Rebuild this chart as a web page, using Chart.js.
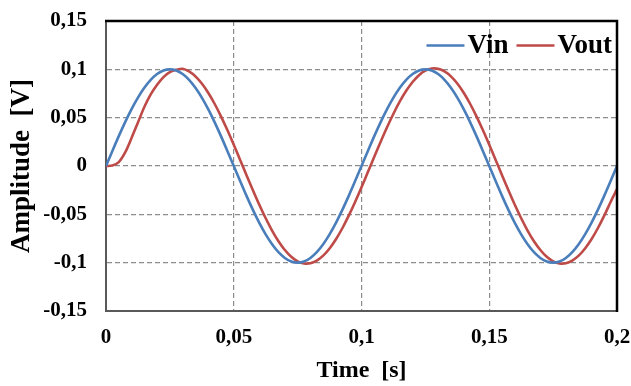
<!DOCTYPE html>
<html>
<head>
<meta charset="utf-8">
<script src="https://cdn.jsdelivr.net/npm/chart.js@4.4.1/dist/chart.umd.min.js"></script>
<style>
  html, body { margin: 0; padding: 0; background: #ffffff; }
  #c { display: block; }
</style>
</head>
<body>
<canvas id="c" width="631" height="386"></canvas>
<script>
// ---- Data ----
const timeS = [
  0, 0.0025, 0.005, 0.0075, 0.01, 0.0125, 0.015, 0.0175, 0.02, 0.0225,
  0.025, 0.0275, 0.03, 0.0325, 0.035, 0.0375, 0.04, 0.0425, 0.045, 0.0475,
  0.05, 0.0525, 0.055, 0.0575, 0.06, 0.0625, 0.065, 0.0675, 0.07, 0.0725,
  0.075, 0.0775, 0.08, 0.0825, 0.085, 0.0875, 0.09, 0.0925, 0.095, 0.0975,
  0.1, 0.1025, 0.105, 0.1075, 0.11, 0.1125, 0.115, 0.1175, 0.12, 0.1225,
  0.125, 0.1275, 0.13, 0.1325, 0.135, 0.1375, 0.14, 0.1425, 0.145, 0.1475,
  0.15, 0.1525, 0.155, 0.1575, 0.16, 0.1625, 0.165, 0.1675, 0.17, 0.1725,
  0.175, 0.1775, 0.18, 0.1825, 0.185, 0.1875, 0.19, 0.1925, 0.195, 0.1975,
  0.2
];
const vin = [
  0, 0.0156, 0.0309, 0.0454, 0.0588, 0.0707, 0.0809, 0.0891, 0.0951, 0.0988,
  0.1, 0.0988, 0.0951, 0.0891, 0.0809, 0.0707, 0.0588, 0.0454, 0.0309, 0.0156,
  0, -0.0156, -0.0309, -0.0454, -0.0588, -0.0707, -0.0809, -0.0891, -0.0951, -0.0988,
  -0.1, -0.0988, -0.0951, -0.0891, -0.0809, -0.0707, -0.0588, -0.0454, -0.0309, -0.0156,
  0, 0.0156, 0.0309, 0.0454, 0.0588, 0.0707, 0.0809, 0.0891, 0.0951, 0.0988,
  0.1, 0.0988, 0.0951, 0.0891, 0.0809, 0.0707, 0.0588, 0.0454, 0.0309, 0.0156,
  0, -0.0156, -0.0309, -0.0454, -0.0588, -0.0707, -0.0809, -0.0891, -0.0951, -0.0988,
  -0.1, -0.0988, -0.0951, -0.0891, -0.0809, -0.0707, -0.0588, -0.0454, -0.0309, -0.0156,
  0
];
const vout = [
  0, 0.0005, 0.004, 0.014, 0.029, 0.045, 0.061, 0.074, 0.084, 0.092,
  0.097, 0.0995, 0.1006, 0.0978, 0.0927, 0.0853, 0.0758, 0.0644, 0.0514, 0.0372,
  0.0220, 0.0063, -0.0095, -0.0251, -0.0401, -0.0541, -0.0668, -0.0778, -0.0869, -0.0939,
  -0.0986, -0.1008, -0.1006, -0.0978, -0.0927, -0.0853, -0.0758, -0.0644, -0.0514, -0.0372,
  -0.0220, -0.0063, 0.0095, 0.0251, 0.0401, 0.0541, 0.0668, 0.0778, 0.0869, 0.0939,
  0.0986, 0.1008, 0.1006, 0.0978, 0.0927, 0.0853, 0.0758, 0.0644, 0.0514, 0.0372,
  0.0220, 0.0063, -0.0095, -0.0251, -0.0401, -0.0541, -0.0668, -0.0778, -0.0869, -0.0939,
  -0.0986, -0.1008, -0.1006, -0.0978, -0.0927, -0.0853, -0.0758, -0.0644, -0.0514, -0.0372,
  -0.0240
];
const seriesNames = ['Vin', 'Vout'];
const xTickValues = [0, 0.05, 0.1, 0.15, 0.2];
const xTickLabels = ['0', '0,05', '0,1', '0,15', '0,2'];
const yTickValues = [-0.15, -0.1, -0.05, 0, 0.05, 0.1, 0.15];
const yTickLabels = ['-0,15', '-0,1', '-0,05', '0', '0,05', '0,1', '0,15'];
const xTitle = 'Time  [s]';
const yTitle = 'Amplitude  [V]';

// ---- Styling ----
const SERIF = "'Liberation Serif', 'Times New Roman', serif";
const BLUE = '#4a7ebb';
const RED = '#be4b48';
const GRID = '#8c8c8c';

const frameAndLegend = {
  id: 'frameAndLegend',
  afterDatasetsDraw(chart) {
    const { ctx, chartArea: a } = chart;
    ctx.save();
    ctx.strokeStyle = '#000000';
    ctx.lineWidth = 2.5;
    ctx.beginPath();
    ctx.moveTo(a.left - 1, a.top);
    ctx.lineTo(a.right, a.top);
    ctx.lineTo(a.right, a.bottom + 1);
    ctx.stroke();
    ctx.restore();
  },
  afterDraw(chart) {
    const { ctx, chartArea: a } = chart;
    const ds = chart.data.datasets;
    ctx.save();
    ctx.font = "bold 27px " + SERIF;
    ctx.textBaseline = 'middle';
    ctx.textAlign = 'left';
    const lineLen = 38, gapText = 3, gapItem = 8;
    const widths = ds.map(d => ctx.measureText(d.label).width);
    let total = 0;
    ds.forEach((d, i) => { total += lineLen + gapText + widths[i]; });
    total += gapItem * (ds.length - 1);
    let x = a.right - 5 - total;
    const y = a.top + 24.5;
    ds.forEach((d, i) => {
      ctx.strokeStyle = d.borderColor;
      ctx.lineWidth = 2.5;
      ctx.beginPath();
      ctx.moveTo(x, y);
      ctx.lineTo(x + lineLen, y);
      ctx.stroke();
      x += lineLen + gapText;
      ctx.fillStyle = '#000000';
      ctx.fillText(d.label, x, y + 1);
      x += widths[i] + gapItem;
    });
    ctx.restore();
  }
};

const edgeTransparent = (vals) => (c) => {
  const v = c.tick ? c.tick.value : null;
  if (v === vals[0] || v === vals[vals.length - 1]) return 'rgba(0,0,0,0)';
  return GRID;
};

new Chart(document.getElementById('c'), {
  type: 'line',
  data: {
    datasets: [
      {
        label: seriesNames[0],
        data: timeS.map((t, i) => ({ x: t, y: vin[i] })),
        borderColor: BLUE,
        backgroundColor: BLUE,
        borderWidth: 2.6,
        pointRadius: 0,
        tension: 0.3,
        fill: false
      },
      {
        label: seriesNames[1],
        data: timeS.map((t, i) => ({ x: t, y: vout[i] })),
        borderColor: RED,
        backgroundColor: RED,
        borderWidth: 2.6,
        pointRadius: 0,
        tension: 0.3,
        fill: false
      }
    ]
  },
  options: {
    responsive: false,
    animation: false,
    devicePixelRatio: 1,
    layout: { padding: { left: 0, right: 14, top: 21, bottom: 0 } },
    plugins: {
      legend: { display: false },
      tooltip: { enabled: false }
    },
    scales: {
      x: {
        type: 'linear',
        min: 0,
        max: 0.2,
        afterBuildTicks: (s) => { s.ticks = xTickValues.map(v => ({ value: v })); },
        afterFit: (s) => { s.height = 75; s.paddingLeft = 0; s.paddingRight = 0; },
        ticks: {
          autoSkip: false,
          maxRotation: 0,
          padding: 14,
          color: '#000000',
          font: { family: SERIF, size: 21, weight: 'bold' },
          callback: (v, i) => xTickLabels[i]
        },
        grid: {
          drawTicks: false,
          color: edgeTransparent(xTickValues),
          lineWidth: 1.2
        },
        border: { display: true, color: '#595959', width: 2, dash: [5, 3] },
        title: {
          display: true,
          text: xTitle,
          color: '#000000',
          font: { family: SERIF, size: 24, weight: 'bold' },
          padding: { top: 0, bottom: 1 }
        }
      },
      y: {
        type: 'linear',
        min: -0.15,
        max: 0.15,
        afterBuildTicks: (s) => { s.ticks = yTickValues.map(v => ({ value: v })); },
        afterFit: (s) => { s.width = 106; s.paddingTop = 0; s.paddingBottom = 0; },
        ticks: {
          autoSkip: false,
          padding: 19,
          color: '#000000',
          font: { family: SERIF, size: 21, weight: 'bold' },
          callback: (v, i) => yTickLabels[i]
        },
        grid: {
          drawTicks: false,
          color: edgeTransparent(yTickValues),
          lineWidth: 1.2
        },
        border: { display: true, color: '#595959', width: 2, dash: [5, 3] },
        title: {
          display: true,
          text: yTitle,
          color: '#000000',
          font: { family: SERIF, size: 27, weight: 'bold' },
          padding: { top: 6, bottom: 0 }
        }
      }
    }
  },
  plugins: [frameAndLegend]
});
</script>
</body>
</html>
